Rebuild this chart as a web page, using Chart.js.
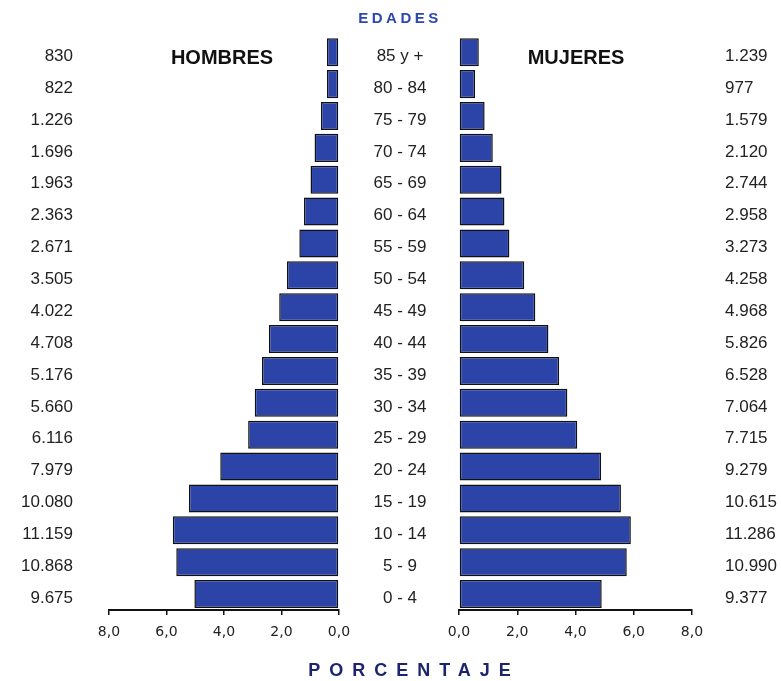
<!DOCTYPE html>
<html>
<head>
<meta charset="utf-8">
<script src="https://cdn.jsdelivr.net/npm/chart.js@4"></script>
<style>
  html, body { margin: 0; padding: 0; background: #fff; }
  #wrap { position: relative; width: 781px; height: 681px; overflow: hidden; font-family: 'Liberation Sans', Arial, sans-serif; }
  canvas { position: absolute; top: 0; }
  .lbl { position: absolute; transform: translate(-50%, -50%); white-space: nowrap; font-weight: bold; }
</style>
</head>
<body>
<div id="wrap">
  <canvas id="menChart" style="left:0" width="355" height="681"></canvas>
  <canvas id="womenChart" style="left:345px" width="436" height="681"></canvas>
  <div class="lbl" style="left:400px;top:17px;color:#2c47b0;font-size:15px;letter-spacing:3.5px;">EDADES</div>
  <div class="lbl" style="left:222px;top:57px;color:#111;font-size:20px;">HOMBRES</div>
  <div class="lbl" style="left:576px;top:57px;color:#111;font-size:20px;">MUJERES</div>
  <div class="lbl" style="left:414px;top:670px;color:#1c2470;font-size:18px;letter-spacing:9px;">PORCENTAJE</div>
</div>
<script>
document.addEventListener("DOMContentLoaded", function () {
    const barBlue = '#2c44a8';
    const edgeDark = '#111111';
    const textDark = '#222222';

    // age groups, top to bottom
    const ageGroups = ['85 y +', '80 - 84', '75 - 79', '70 - 74', '65 - 69', '60 - 64', '55 - 59', '50 - 54',
        '45 - 49', '40 - 44', '35 - 39', '30 - 34', '25 - 29', '20 - 24', '15 - 19', '10 - 14', '5 - 9', '0 - 4'];

    // absolute counts shown at the sides
    const menCounts = [830, 822, 1226, 1696, 1963, 2363, 2671, 3505, 4022, 4708, 5176, 5660, 6116, 7979, 10080, 11159, 10868, 9675];
    const womenCounts = [1239, 977, 1579, 2120, 2744, 2958, 3273, 4258, 4968, 5826, 6528, 7064, 7715, 9279, 10615, 11286, 10990, 9377];

    // bar lengths (percent)
    const menPct = [0.42, 0.42, 0.63, 0.85, 0.99, 1.22, 1.38, 1.81, 2.08, 2.44, 2.68, 2.93, 3.16, 4.13, 5.22, 5.78, 5.66, 5.03];
    const womenPct = [0.68, 0.55, 0.88, 1.16, 1.46, 1.56, 1.73, 2.24, 2.62, 3.07, 3.44, 3.72, 4.06, 4.88, 5.56, 5.9, 5.76, 4.9];

    const pctTicks = [0, 2, 4, 6, 8];

    const fmtCount = n => String(n).replace(/\B(?=(\d{3})+(?!\d))/g, '.');
    const fmtPct = v => v.toFixed(1).replace('.', ',');

    const labelFont = { family: "'Liberation Sans', Arial, sans-serif", size: 17 };
    const tickFont = { family: "'DejaVu Sans', sans-serif", size: 14 };

    function barDataset(values) {
        return {
            data: values,
            backgroundColor: barBlue,
            borderColor: edgeDark,
            borderWidth: 1.5,
            borderSkipped: false,
            categoryPercentage: 1,
            barPercentage: 0.88
        };
    }

    function pctAxis(reverse) {
        return {
            type: 'linear',
            min: 0,
            max: 8,
            reverse: reverse,
            afterBuildTicks: scale => { scale.ticks = pctTicks.map(v => ({ value: v })); },
            afterFit: scale => {
                scale.height = 71;
                scale.paddingLeft = 0;
                scale.paddingRight = 0;
            },
            grid: { drawOnChartArea: false, drawTicks: true, tickLength: 5, color: edgeDark, lineWidth: 1.5 },
            border: { display: true, color: edgeDark, width: 2 },
            ticks: { color: '#222', font: tickFont, padding: 9, maxRotation: 0, callback: v => fmtPct(v) }
        };
    }

    // label column as a y axis, fixed width, no extra vertical padding
    function labelAxis(pos, width, pad, align, extra) {
        return Object.assign({
            position: pos,
            afterFit: scale => {
                scale.width = width;
                scale.paddingTop = 0;
                scale.paddingBottom = 0;
            },
            grid: { display: false, drawTicks: false },
            border: { display: false },
            ticks: { color: textDark, font: labelFont, padding: pad, crossAlign: align, labelOffset: 4 }
        }, extra || {});
    }

    // left side: men
    new Chart(document.getElementById('menChart'), {
        type: 'bar',
        data: { labels: menCounts.map(fmtCount), datasets: [barDataset(menPct)] },
        options: {
            indexAxis: 'y',
            responsive: false,
            animation: false,
            layout: { padding: { top: 36.3, right: 16, left: 0, bottom: 0 } },
            plugins: { legend: { display: false }, tooltip: { enabled: false } },
            scales: {
                x: pctAxis(true),
                y: labelAxis('left', 109, 36, 'near')
            }
        }
    });

    // right side: women, ages in the middle column
    new Chart(document.getElementById('womenChart'), {
        type: 'bar',
        data: { labels: ageGroups, datasets: [barDataset(womenPct)] },
        options: {
            indexAxis: 'y',
            responsive: false,
            animation: false,
            layout: { padding: { top: 36.3, right: 0, left: 0, bottom: 0 } },
            plugins: { legend: { display: false }, tooltip: { enabled: false } },
            scales: {
                x: pctAxis(false),
                y: labelAxis('left', 114, 32.5, 'center'),
                y2: labelAxis('right', 89, 33, 'near', {
                    type: 'category',
                    labels: womenCounts.map(fmtCount),
                    offset: true
                })
            }
        }
    });
});
</script>
</body>
</html>
